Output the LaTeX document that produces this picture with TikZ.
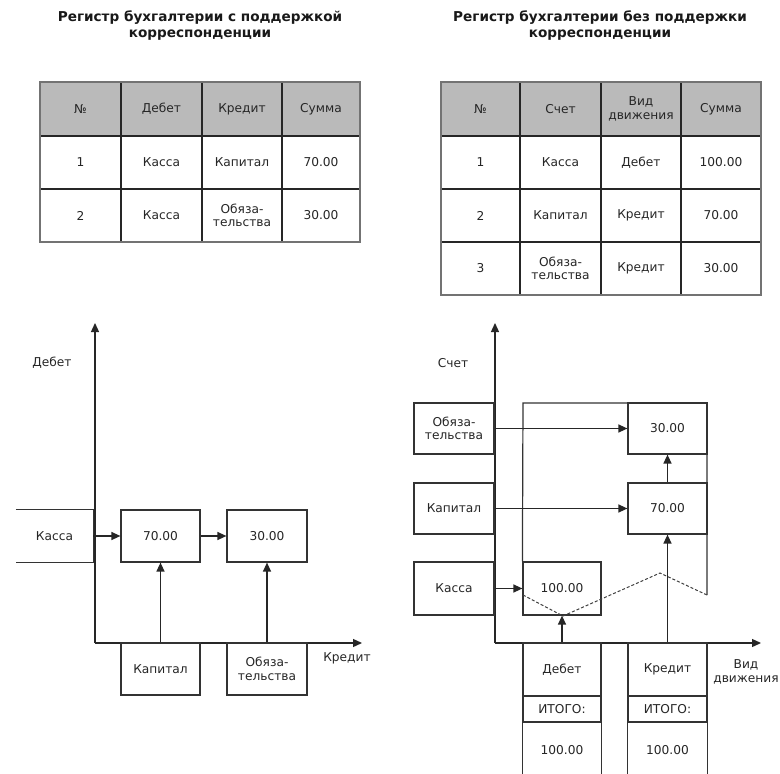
\documentclass[tikz,border=0pt]{standalone}
\usepackage{fontspec}
\setmainfont{DejaVu Sans}
\usetikzlibrary{arrows.meta}
\newcommand\bodysize{\fontsize{12.2}{13.5}\selectfont}
\newcommand\titlesize{\fontsize{13.6}{16}\selectfont\bfseries}

\tikzset{
  % a rectangle given by its corners: left, top, right, bottom
  span/.style n args={4}{minimum width={#3-#1}, minimum height={#4-#2},
    at={({(#1+#3)/2},{(#2+#4)/2})}},
  txt/.style={inner sep=0pt, align=center, font=\bodysize, text=black!85},
  cell/.style={txt, draw=black!85, line width=2.2pt},
  hdr/.style={cell, fill=black!27},
  tabframe/.style={draw=black!55, line width=2.4pt, inner sep=0pt},
  box/.style={txt, draw=black!80, line width=1.2pt},
  plain/.style={draw=black!80, line width=1.2pt},
  arr/.style={draw=black!85, line width=1.3pt, -{Triangle[length=9pt,width=8pt]}},
  torn/.style={draw=black!75, line width=1pt, dash pattern=on 3pt off 2pt},
  ttl/.style={inner sep=0pt, align=center, font=\titlesize, text=black!90},
}

\begin{document}
\begin{tikzpicture}[x=1pt,y=-1pt]
\useasboundingbox[fill=white] (0,0) rectangle (780,774);

% ---------- titles ----------
\node[ttl] (tl) at (200,26) {Регистр бухгалтерии с поддержкой\\корреспонденции};
\node[ttl] (tr) at (600,26) {Регистр бухгалтерии без поддержки\\корреспонденции};

% ---------- left table ----------
\node[hdr, span={40}{82}{121}{136}]   (la1) {№};
\node[hdr, span={121}{82}{202}{136}]  (la2) {Дебет};
\node[hdr, span={202}{82}{282}{136}]  (la3) {Кредит};
\node[hdr, span={282}{82}{360}{136}]  (la4) {Сумма};
\node[cell, span={40}{136}{121}{189}]  (lb1) {1};
\node[cell, span={121}{136}{202}{189}] (lb2) {Касса};
\node[cell, span={202}{136}{282}{189}] (lb3) {Капитал};
\node[cell, span={282}{136}{360}{189}] (lb4) {70.00};
\node[cell, span={40}{189}{121}{242}]  (lc1) {2};
\node[cell, span={121}{189}{202}{242}] (lc2) {Касса};
\node[cell, span={202}{189}{282}{242}] (lc3) {Обяза-\\тельства};
\node[cell, span={282}{189}{360}{242}] (lc4) {30.00};
\node[tabframe, span={40}{82}{360}{242}] (ltab) {};

% ---------- right table ----------
\node[hdr, span={441}{82}{520}{136}]  (ra1) {№};
\node[hdr, span={520}{82}{601}{136}]  (ra2) {Счет};
\node[hdr, span={601}{82}{681}{136}]  (ra3) {Вид\\движения};
\node[hdr, span={681}{82}{761}{136}]  (ra4) {Сумма};
\node[cell, span={441}{136}{520}{189}] (rb1) {1};
\node[cell, span={520}{136}{601}{189}] (rb2) {Касса};
\node[cell, span={601}{136}{681}{189}] (rb3) {Дебет};
\node[cell, span={681}{136}{761}{189}] (rb4) {100.00};
\node[cell, span={441}{189}{520}{242}] (rc1) {2};
\node[cell, span={520}{189}{601}{242}] (rc2) {Капитал};
\node[cell, span={601}{189}{681}{242}] (rc3) {Кредит};
\node[cell, span={681}{189}{761}{242}] (rc4) {70.00};
\node[cell, span={441}{242}{520}{295}] (rd1) {3};
\node[cell, span={520}{242}{601}{295}] (rd2) {Обяза-\\тельства};
\node[cell, span={601}{242}{681}{295}] (rd3) {Кредит};
\node[cell, span={681}{242}{761}{295}] (rd4) {30.00};
\node[tabframe, span={441}{82}{761}{295}] (rtab) {};

% ---------- left diagram: debit / credit axes ----------
\coordinate (lO) at (95,643);
\coordinate (lY) at (95,323);
\coordinate (lX) at (362,643);
\draw[arr] (lO) -- (lY);
\draw[arr] (lO) -- (lX);
\node[txt] (lyl) at (52,363) {Дебет};
\node[txt] (lxl) at (347,658) {Кредит};

% cash account, open on the left
\node[txt, span={16}{510}{93}{562}] (lkas) {Касса};
\draw[plain] (lkas.north west) -- (lkas.north east) -- (lkas.south east) -- (lkas.south west);
\node[box, span={121}{510}{200}{562}] (l70) {70.00};
\node[box, span={227}{510}{307}{562}] (l30) {30.00};
\node[box, span={121}{643}{200}{695}] (lkap) {Капитал};
\node[box, span={227}{643}{307}{695}] (lob) {Обяза-\\тельства};

\draw[arr] (lkas.east) -- (l70.west);
\draw[arr] (l70.east) -- (l30.west);
\draw[arr] (lkap.north) -- (l70.south);
\draw[arr] (lob.north) -- (l30.south);

% ---------- right diagram: account / movement axes ----------
\coordinate (rO) at (495,643);
\coordinate (rY) at (495,323);
\coordinate (rX) at (761,643);
\draw[arr] (rO) -- (rY);
\draw[arr] (rO) -- (rX);
\node[txt] (ryl) at (453,363) {Счет};
\node[txt] (rxl) at (746,672) {Вид\\движения};

\node[box, span={414}{403}{494}{454}] (rob) {Обяза-\\тельства};
\node[box, span={414}{483}{494}{534}] (rkap) {Капитал};
\node[box, span={414}{562}{494}{615}] (rkas) {Касса};
\node[box, span={628}{403}{707}{454}] (r30) {30.00};
\node[box, span={628}{483}{707}{534}] (r70) {70.00};
\node[box, span={523}{562}{601}{615}] (r100) {100.00};

% frame of the movements with a torn lower edge
\coordinate (fTL) at (523,403);
\coordinate (fTR) at (707,403);
\coordinate (fR)  at (707,595);
\coordinate (z1) at (523,595);
\coordinate (z2) at (563,616);
\coordinate (z3) at (660,573);
\draw[plain] (r100.north west) -- (fTL) -- (fTR) -- (fR);
\draw[torn] (z1) -- (z2) -- (z3) -- (fR);

% debit and credit columns with totals
\node[box, span={523}{643}{601}{696}] (rdeb) {Дебет};
\node[box, span={523}{696}{601}{722}] (ritd) {ИТОГО:};
\node[txt] (rsd) at (562,750) {100.00};
\node[box, span={628}{643}{707}{696}] (rkre) {Кредит};
\node[box, span={628}{696}{707}{722}] (ritk) {ИТОГО:};
\node[txt] (rsk) at (667.5,750) {100.00};
\draw[plain] (ritd.south west) -- ++(0,60);
\draw[plain] (ritd.south east) -- ++(0,60);
\draw[plain] (ritk.south west) -- ++(0,60);
\draw[plain] (ritk.south east) -- ++(0,60);

\draw[arr] (rob.east) -- (r30.west);
\draw[arr] (rkap.east) -- (r70.west);
\draw[arr] (rkas.east) -- (r100.west);
\draw[arr] (r70.north) -- (r30.south);
\draw[arr] (rdeb.north) -- (r100.south);
\draw[arr] (rkre.north) -- (r70.south);
\end{tikzpicture}
\end{document}
